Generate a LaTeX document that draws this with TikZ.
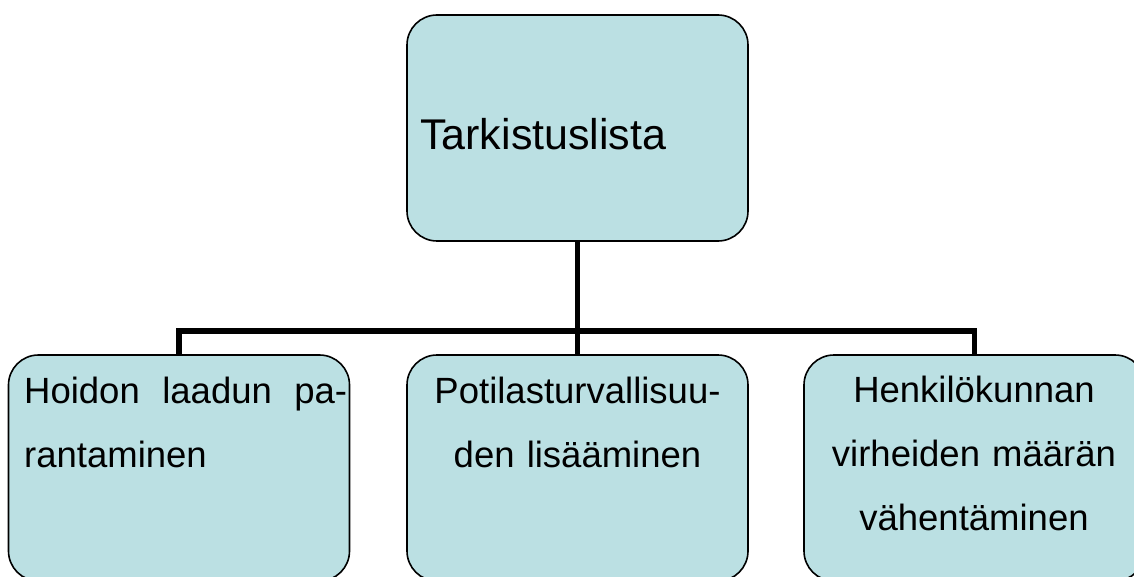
\documentclass[tikz,border=0pt]{standalone}
\usepackage{fontspec}
\setmainfont{Liberation Sans}
\definecolor{boxfill}{RGB}{187,224,227}

\begin{document}
\begin{tikzpicture}[
        x=1pt, y=-1pt,
        box/.style = {draw, line width=1.6pt, fill=boxfill, rounded corners=30pt,
                      minimum width=341pt, minimum height=226pt, inner sep=0pt},
        box text/.style = {inner sep=0pt, font=\fontsize{36.5}{64}\selectfont},
        link/.style = {line width=5.5pt}]
      \useasboundingbox (0,0) rectangle (1134,577);
      \node[box] (lista) at (577.5,128) {};
      \node[box] (hoito) at (179,468) {};
      \node[box] (potilas) at (577.5,468) {};
      \node[box] (henki) at (974.5,468) {};
      % texts
      \node[box text, anchor=base west, font=\fontsize{43}{50}\selectfont] (listaT) at (420,150) {Tarkistuslista};
      \node[box text, anchor=north west, text width=323pt, align=left] (hoitoT) at (24,377)
        {Hoidon\hfill laadun\hfill pa-\\rantaminen};
      \node[box text, anchor=north, text width=330pt, align=center] (potilasT) at (577.5,377)
        {Potilasturvallisuu-\\den lisääminen};
      \node[box text, anchor=north, text width=330pt, align=center] (henkiT) at (974,376)
        {Henkilökunnan\\virheiden määrän\\vähentäminen};
      % connectors
      \coordinate (haara) at (577.5,331);
      \draw[link] (lista.south) -- (haara);
      \draw[link] (hoito.north) |- (haara) -| (henki.north);
      \draw[link] (haara) -- (potilas.north);
    \end{tikzpicture}
\end{document}
